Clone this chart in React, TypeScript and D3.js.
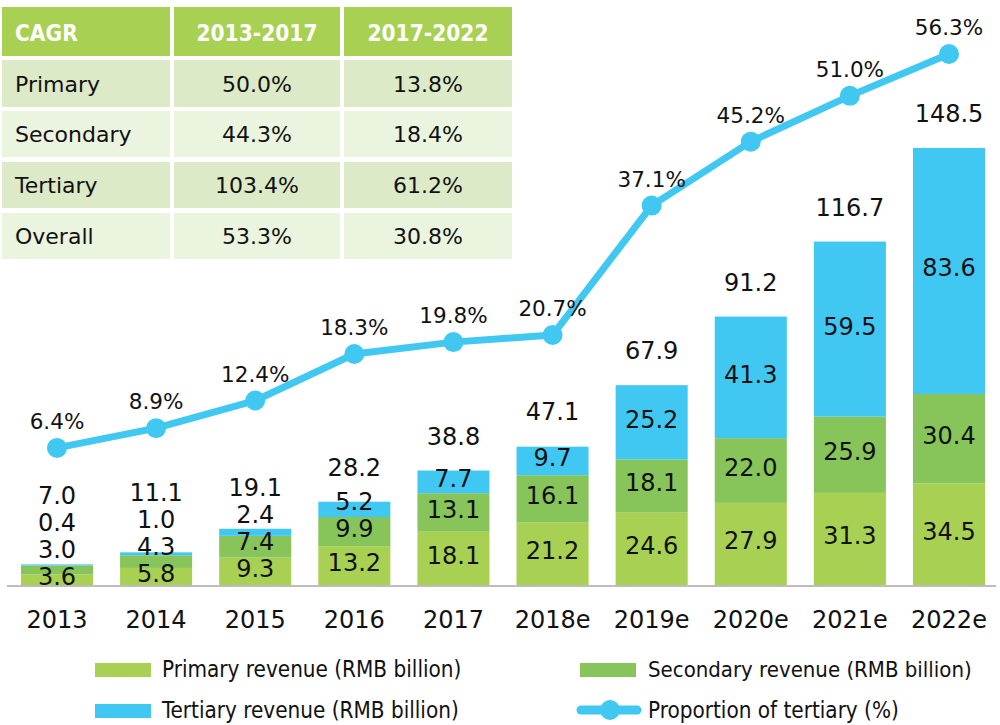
import React from "react";
import * as d3 from "d3";

const years = ["2013", "2014", "2015", "2016", "2017", "2018e", "2019e", "2020e", "2021e", "2022e"];
const primary = [3.6, 5.8, 9.3, 13.2, 18.1, 21.2, 24.6, 27.9, 31.3, 34.5];
const secondary = [3.0, 4.3, 7.4, 9.9, 13.1, 16.1, 18.1, 22.0, 25.9, 30.4];
const tertiary = [0.4, 1.0, 2.4, 5.2, 7.7, 9.7, 25.2, 41.3, 59.5, 83.6];
const totals = [7.0, 11.1, 19.1, 28.2, 38.8, 47.1, 67.9, 91.2, 116.7, 148.5];
const proportion = [6.4, 8.9, 12.4, 18.3, 19.8, 20.7, 37.1, 45.2, 51.0, 56.3];

const tableHeader = ["CAGR", "2013-2017", "2017-2022"];
const tableRows = ["Primary", "Secondary", "Tertiary", "Overall"];
const cagr2013 = ["50.0%", "44.3%", "103.4%", "53.3%"];
const cagr2017 = ["13.8%", "18.4%", "61.2%", "30.8%"];

const legendItems = [
  "Primary revenue (RMB billion)",
  "Secondary revenue (RMB billion)",
  "Tertiary revenue (RMB billion)",
  "Proportion of tertiary (%)",
];

const C_PRI = "#A8D052";
const C_SEC = "#87C45A";
const C_TER = "#40C8F3";
const FONT = "'DejaVu Sans', sans-serif";
const FONT_C = "'DejaVu Sans Condensed', 'DejaVu Sans', sans-serif";

export default function App() {
  const W = 1000, H = 725;
  const base = 585;
  const x = d3.scaleBand<string>().domain(years).range([7.45, 998.55]).paddingInner(0.273).paddingOuter(0.1365);
  const y = d3.scaleLinear().domain([0, 150]).range([base, base - 150 * 2.943]);
  const p = d3.scaleLinear().domain([0, 60]).range([498.4, 498.4 - 60 * 7.893]);
  const bw = x.bandwidth();
  const cx = (yr: string) => (x(yr) as number) + bw / 2;

  const line = d3.line<number>().x((_, i) => cx(years[i])).y((d) => p(d));

  const colX = [2, 174, 344];
  const colW = [168, 166, 168];
  const rowY = [7, 60, 111, 162, 213];
  const rowH = [49, 47, 46, 46, 46];
  const rowFill = ["#DCEAC7", "#EAF4DF", "#DCEAC7", "#EAF4DF"];
  const gap = 27;

  return (
    <svg width={W} height={H} style={{ display: "block", position: "absolute", left: 0, top: 0, background: "#fff" }}>
      <rect x={0} y={0} width={W} height={H} fill="#fff" />
      {/* axis line */}
      <line x1={7} x2={996} y1={base + 1} y2={base + 1} stroke="#BDBDBD" strokeWidth={2} />

      {/* bars */}
      {years.map((yr, i) => {
        const x0 = x(yr) as number;
        const y1 = y(primary[i]);
        const y2 = y(primary[i] + secondary[i]);
        const y3 = y(primary[i] + secondary[i] + tertiary[i]);
        return (
          <g key={yr}>
            <rect x={x0} y={y1} width={bw} height={base - y1} fill={C_PRI} />
            <rect x={x0} y={y2} width={bw} height={y1 - y2} fill={C_SEC} />
            <rect x={x0} y={y3} width={bw} height={y2 - y3} fill={C_TER} />
          </g>
        );
      })}

      {/* line */}
      <path d={line(proportion) as string} fill="none" stroke={C_TER} strokeWidth={7} strokeLinejoin="round" />
      {proportion.map((v, i) => (
        <circle key={i} cx={cx(years[i])} cy={p(v)} r={10} fill={C_TER} />
      ))}
      {proportion.map((v, i) => (
        <text key={"pl" + i} x={cx(years[i])} y={p(v) - 19} textAnchor="middle" fontFamily={FONT} fontSize={21.5} fill="#111">
          {v.toFixed(1)}%
        </text>
      ))}

      {/* bar labels */}
      {years.map((yr, i) => {
        const segs = [primary[i], secondary[i], tertiary[i]];
        let cum = 0;
        let prev = Infinity;
        const out: React.ReactNode[] = [];
        segs.forEach((v, k) => {
          const mid = y(cum + v / 2);
          cum += v;
          let by = mid + 5.5;
          by = Math.min(by, prev - gap);
          prev = by;
          out.push(
            <text key={k} x={cx(yr)} y={by} textAnchor="middle" fontFamily={FONT} fontSize={24} fill="#111">
              {v.toFixed(1)}
            </text>
          );
        });
        const ty = Math.min(y(totals[i]) - 26, prev - gap);
        out.push(
          <text key="t" x={cx(yr)} y={ty} textAnchor="middle" fontFamily={FONT} fontSize={24} fill="#111">
            {totals[i].toFixed(1)}
          </text>
        );
        return <g key={"lb" + yr}>{out}</g>;
      })}

      {/* x labels */}
      {years.map((yr) => (
        <text key={"x" + yr} x={cx(yr)} y={628} textAnchor="middle" fontFamily={FONT} fontSize={24} fill="#111">
          {yr}
        </text>
      ))}

      {/* table */}
      <g>
        {tableHeader.map((h, j) => (
          <g key={"h" + j}>
            <rect x={colX[j]} y={rowY[0]} width={colW[j]} height={rowH[0]} fill={C_PRI} />
            <text
              x={j === 0 ? colX[j] + 13 : colX[j] + colW[j] / 2}
              y={41}
              textAnchor={j === 0 ? "start" : "middle"}
              fontFamily={FONT_C}
              fontStretch="condensed"
              fontWeight="bold"
              fontSize={22.5}
              fill="#fff"
            >
              {h}
            </text>
          </g>
        ))}
        {tableRows.map((r, i) => {
          const ry = rowY[i + 1];
          const rh = rowH[i + 1];
          const ty = ry + rh / 2 + 8;
          return (
            <g key={"r" + i}>
              {colX.map((cxx, j) => (
                <rect key={j} x={cxx} y={ry} width={colW[j]} height={rh} fill={rowFill[i]} />
              ))}
              <text x={colX[0] + 13} y={ty} fontFamily={FONT} fontSize={22} fill="#111">{r}</text>
              <text x={colX[1] + colW[1] / 2} y={ty} textAnchor="middle" fontFamily={FONT} fontSize={22} fill="#111">{cagr2013[i]}</text>
              <text x={colX[2] + colW[2] / 2} y={ty} textAnchor="middle" fontFamily={FONT} fontSize={22} fill="#111">{cagr2017[i]}</text>
            </g>
          );
        })}
      </g>

      {/* legend */}
      <g>
        <rect x={95} y={663} width={56} height={14} fill={C_PRI} />
        <text x={162} y={677} fontFamily={FONT_C} fontStretch="condensed" fontSize={22.3} fill="#111">{legendItems[0]}</text>
        <rect x={580} y={663} width={56} height={14} fill={C_SEC} />
        <text x={648} y={677} fontFamily={FONT_C} fontStretch="condensed" fontSize={22} fill="#111">{legendItems[1]}</text>
        <rect x={95} y={704} width={56} height={14} fill={C_TER} />
        <text x={162} y={718} fontFamily={FONT_C} fontStretch="condensed" fontSize={22.3} fill="#111">{legendItems[2]}</text>
        <line x1={581} x2={637} y1={710} y2={710} stroke={C_TER} strokeWidth={9} strokeLinecap="round" />
        <circle cx={610} cy={710} r={10} fill={C_TER} />
        <text x={648} y={718} fontFamily={FONT_C} fontStretch="condensed" fontSize={22.3} fill="#111">{legendItems[3]}</text>
      </g>
    </svg>
  );
}
